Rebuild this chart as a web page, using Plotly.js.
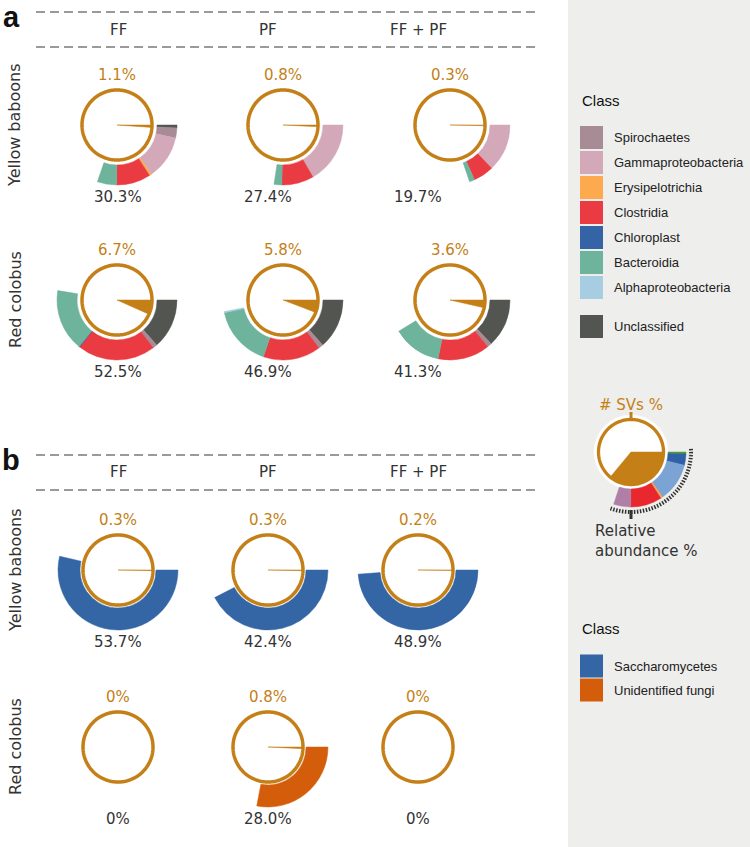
<!DOCTYPE html>
<html><head><meta charset="utf-8">
<script src="https://cdn.plot.ly/plotly-3.0.1.min.js"></script>
<style>html,body{margin:0;padding:0;background:#fff}#chart{width:750px;height:847px}</style>
</head><body><div id="chart"></div>
<script>
// ---------------- data ----------------
const columns = ['FF', 'PF', 'FF + PF'];
const hosts = ['Yellow baboons', 'Red colobus'];

const bactClasses = ['Unclassified', 'Spirochaetes', 'Gammaproteobacteria', 'Erysipelotrichia', 'Clostridia', 'Chloroplast', 'Bacteroidia', 'Alphaproteobacteria'];
const bactColors = ['#535551', '#a78b95', '#d3a9b9', '#fdaa4e', '#e93b41', '#3463a6', '#6eb39b', '#a7cde2'];
// relative abundance (%) of each class, clockwise from 3 o'clock
const bactYB_FF   = [0.8, 2.7, 11.8, 0.6, 9.2, 0, 5.2, 0];
const bactYB_PF   = [0, 0, 16.7, 0, 8.6, 0, 2.1, 0];
const bactYB_FFPF = [0, 0, 12.8, 0, 5.5, 0, 1.4, 0];
const bactRC_FF   = [13.5, 1.2, 0, 0, 21.0, 0.2, 16.6, 0];
const bactRC_PF   = [13.5, 1.3, 0, 0, 15.5, 0, 16.3, 0.3];
const bactRC_FFPF = [13.0, 1.2, 0, 0, 14.0, 0, 13.1, 0];
const bactSVs    = [[1.1, 0.8, 0.3], [6.7, 5.8, 3.6]];
const bactTotals = [[30.3, 27.4, 19.7], [52.5, 46.9, 41.3]];

const fungiClasses = ['Saccharomycetes', 'Unidentified fungi'];
const fungiColors = ['#3465a5', '#d45d0c'];
const fungiYB_FF   = [53.7, 0];
const fungiYB_PF   = [42.4, 0];
const fungiYB_FFPF = [48.9, 0];
const fungiRC_FF   = [0, 0];
const fungiRC_PF   = [0, 28.0];
const fungiRC_FFPF = [0, 0];
const fungiSVs    = [[0.3, 0.3, 0.2], [0, 0.8, 0]];
const fungiTotals = [[53.7, 42.4, 48.9], [0, 28.0, 0]];

// explanatory key glyph
const keyRing = [0.6, 3.3, 11.4, 0.6, 9.2, 5.0];
const keyColors = ['#4b9a2f', '#2f60a8', '#7ba3d3', '#f2a24e', '#e8282e', '#b07fa8'];
const keySVs = 36;

// ---------------- helpers ----------------
const W = 750, H = 847;
const ORANGE = '#c47f17';
const TXT = '#333333';
const px = x => x / W;
const py = y => 1 - y / H;
const fmt = v => v === 0 ? '0%' : v.toFixed(1) + '%';

const traces = [];
const layout = {
  width: W, height: H,
  margin: {l: 0, r: 0, t: 0, b: 0},
  paper_bgcolor: '#ffffff',
  showlegend: false,
  dragmode: false,
  shapes: [], annotations: []
};
let polarCount = 0;

function addCell(cx, cy, vals, colors, svs, g) {
  polarCount++;
  const sub = polarCount === 1 ? 'polar' : 'polar' + polarCount;
  const half = 70;
  layout[sub] = {
    domain: {x: [px(cx - half), px(cx + half)], y: [py(cy + half), py(cy - half)]},
    bgcolor: 'rgba(0,0,0,0)',
    barmode: 'overlay',
    radialaxis: {visible: false, range: [0, half]},
    angularaxis: {visible: false, direction: 'clockwise', rotation: 0, thetaunit: 'degrees'}
  };
  const theta = [], width = [], r = [], base = [], col = [];
  if (g.disk) {
    [90, 270].forEach(t => { theta.push(t); width.push(180); base.push(0); r.push(g.disk); col.push('#ffffff'); });
  }
  let cum = 0;
  vals.forEach((v, i) => {
    if (v > 0) {
      theta.push((cum + v / 2) * 3.6); width.push(v * 3.6);
      base.push(g.rin); r.push(g.rout - g.rin); col.push(colors[i]);
    }
    cum += v;
  });
  if (svs > 0) {
    theta.push(svs * 1.8); width.push(svs * 3.6); base.push(0); r.push(g.cr); col.push(ORANGE);
  }
  traces.push({type: 'barpolar', subplot: sub, theta, width, r, base,
    marker: {color: col, line: {color: col, width: 0.5}}, hoverinfo: 'skip'});
  const ct = [], cr = [];
  for (let a = 0; a <= 360; a += 2) { ct.push(a); cr.push(g.cr); }
  traces.push({type: 'scatterpolar', subplot: sub, mode: 'lines', theta: ct, r: cr,
    line: {color: ORANGE, width: g.lw}, hoverinfo: 'skip'});
  return sub;
}

function ann(text, x, y, o) {
  layout.annotations.push(Object.assign({
    text, x: px(x), y: py(y), xref: 'paper', yref: 'paper', showarrow: false,
    xanchor: 'center', yanchor: 'middle',
    font: {family: 'DejaVu Sans', size: 15, color: TXT}
  }, o || {}));
}

// ---------------- background & rules ----------------
layout.shapes.push({type: 'rect', xref: 'paper', yref: 'paper', x0: px(568), x1: 1, y0: 0, y1: 1,
  fillcolor: '#eeeeec', line: {width: 0}, layer: 'below'});
[12, 47, 455, 490].forEach(y => layout.shapes.push({type: 'line', xref: 'paper', yref: 'paper',
  x0: px(36), x1: px(535), y0: py(y), y1: py(y), line: {color: '#9a9a9a', width: 2, dash: '9px,5px'}}));

ann('<b>a</b>', 11, 17, {font: {family: 'Liberation Sans', size: 29, color: '#111'}});
ann('<b>b</b>', 11, 460, {font: {family: 'Liberation Sans', size: 29, color: '#111'}});

const headX = [118, 268, 418];
columns.forEach((c, j) => { ann(c, headX[j], 30); ann(c, headX[j], 472); });

// ---------------- panel a ----------------
const bactData = [[bactYB_FF, bactYB_PF, bactYB_FFPF], [bactRC_FF, bactRC_PF, bactRC_FFPF]];
const aRowY = [125, 300];
const aCircX = [117, 283, 450];
const aLabX = [118, 268, 418];
const gA = {rin: 40, rout: 60, cr: 35, lw: 3.5};
hosts.forEach((h, i) => {
  ann(h, 15, aRowY[i], {textangle: -90, font: {family: 'DejaVu Sans', size: 16, color: TXT}});
  columns.forEach((c, j) => {
    addCell(aCircX[j], aRowY[i], bactData[i][j], bactColors, bactSVs[i][j], gA);
    ann(fmt(bactSVs[i][j]), aCircX[j], aRowY[i] - 50, {font: {family: 'DejaVu Sans', size: 15, color: ORANGE}});
    ann(fmt(bactTotals[i][j]), aLabX[j], aRowY[i] + 72);
  });
});

// ---------------- panel b ----------------
const fungiData = [[fungiYB_FF, fungiYB_PF, fungiYB_FFPF], [fungiRC_FF, fungiRC_PF, fungiRC_FFPF]];
const bRowY = [570, 747];
const bCircX = [118, 268, 418];
const gB = {rin: 38, rout: 60, cr: 35, lw: 3.5};
hosts.forEach((h, i) => {
  ann(h, 15, bRowY[i], {textangle: -90, font: {family: 'DejaVu Sans', size: 16, color: TXT}});
  columns.forEach((c, j) => {
    addCell(bCircX[j], bRowY[i], fungiData[i][j], fungiColors, fungiSVs[i][j], gB);
    ann(fmt(fungiSVs[i][j]), bCircX[j], bRowY[i] - 50, {font: {family: 'DejaVu Sans', size: 15, color: ORANGE}});
    ann(fmt(fungiTotals[i][j]), bCircX[j], bRowY[i] + 72);
  });
});

// ---------------- legends ----------------
function legendBlock(titleY, items, colors, ys) {
  ann('Class', 580, titleY, {xanchor: 'left', font: {family: 'Liberation Sans', size: 15, color: '#111'}});
  items.forEach((t, i) => {
    layout.shapes.push({type: 'rect', xref: 'paper', yref: 'paper', x0: px(580), x1: px(603),
      y0: py(ys[i] + 11.5), y1: py(ys[i] - 11.5), fillcolor: colors[i], line: {width: 0}});
    ann(t, 612, ys[i], {xanchor: 'left', font: {family: 'Liberation Sans', size: 13, color: '#222'}});
  });
}
const legOrder = [1, 2, 3, 4, 5, 6, 7, 0];
legendBlock(100, legOrder.map(i => bactClasses[i]), legOrder.map(i => bactColors[i]),
  [137.5, 162.5, 187.5, 212.5, 237.5, 262.5, 287.5, 326.5]);
legendBlock(628, fungiClasses, fungiColors, [666, 690]);

// ---------------- key glyph ----------------
const kx = 631, ky = 452;
const gK = {rin: 37, rout: 55, cr: 32.5, lw: 3.3, disk: 37};
const ks = addCell(kx, ky, keyRing, keyColors, keySVs, gK);
const dt = [], dr = [];
for (let a = -3; a <= 110; a += 1) { dt.push(a); dr.push(60); }
traces.push({type: 'scatterpolar', subplot: ks, mode: 'lines', theta: dt, r: dr,
  line: {color: '#333', width: 4, dash: '1.5px,1.5px'}, hoverinfo: 'skip'});
traces.push({type: 'scatterpolar', subplot: ks, mode: 'lines', theta: [90, 90], r: [58, 67],
  line: {color: '#333', width: 3}, hoverinfo: 'skip'});
traces.push({type: 'scatterpolar', subplot: ks, mode: 'lines', theta: [270, 270], r: [33, 40],
  line: {color: ORANGE, width: 3}, hoverinfo: 'skip'});
ann('# SVs %', kx, 405, {font: {family: 'DejaVu Sans', size: 15, color: ORANGE}});
ann('Relative<br>abundance %', 593, 541, {xanchor: 'left', align: 'left',
  font: {family: 'DejaVu Sans', size: 15, color: TXT}});

Plotly.newPlot('chart', traces, layout, {staticPlot: true, displayModeBar: false});
</script>
</body></html>
